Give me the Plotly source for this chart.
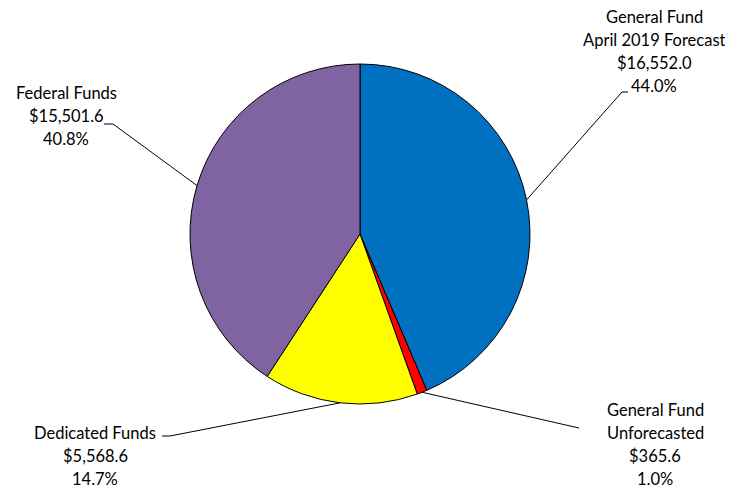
import numpy as np
import plotly.graph_objects as go

categories = ["General Fund April 2019 Forecast", "General Fund Unforecasted", "Dedicated Funds", "Federal Funds"]
label_lines = [["General Fund", "April 2019 Forecast"], ["General Fund", "Unforecasted"], ["Dedicated Funds"], ["Federal Funds"]]
values = [16552.0, 365.6, 5568.6, 15501.6]
percents = [44.0, 1.0, 14.7, 40.8]
colors = ["#0070C0", "#FF0000", "#FFFF00", "#8064A2"]

OFF = 8  # page body margin
W, H = 733 - OFF, 489 - OFF
CX, CY, R = 360 - OFF, 234 - OFF, 170

# label anchor layout (reference pixel coords): center x, first line y, leader end (x,y), leader elbow x
label_layout = [
    dict(cx=654, y0=17, end=(628, 92), elbow=622),
    dict(cx=655, y0=410, end=(579, 428), elbow=579),
    dict(cx=95, y0=433, end=(162, 436), elbow=170),
    dict(cx=66, y0=93, end=(104, 124), elbow=113),
]
LINE_H = 23
FONT = dict(family="Lato, Carlito, sans-serif", size=16.5, color="#000000")

fig = go.Figure()
fig.add_trace(go.Pie(
    labels=categories, values=values, sort=False, direction="clockwise", rotation=0,
    marker=dict(colors=colors, line=dict(color="#000000", width=1)),
    textinfo="none", hoverinfo="label+value+percent", showlegend=False,
    domain=dict(x=[(CX - R) / W, (CX + R) / W], y=[1 - (CY + R) / H, 1 - (CY - R) / H]),
))

total = sum(values)
cum = np.cumsum([0] + values[:-1])
annotations = []
for i, v in enumerate(values):
    mid = (cum[i] + v / 2) / total * 2 * np.pi
    sx = CX + R * np.sin(mid)
    sy = CY - R * np.cos(mid)
    lay = label_layout[i]
    ex, ey = lay["end"][0] - OFF, lay["end"][1] - OFF
    fig.add_trace(go.Scatter(x=[sx, lay["elbow"] - OFF, ex], y=[sy, ey, ey], mode="lines",
                             line=dict(color="#000000", width=1), hoverinfo="skip", showlegend=False))
    lines = label_lines[i] + ["${:,.1f}".format(v), "{:.1f}%".format(percents[i])]
    for j, t in enumerate(lines):
        annotations.append(dict(x=lay["cx"] - OFF, y=lay["y0"] - OFF + j * LINE_H, text=t, showarrow=False,
                                xref="x", yref="y", xanchor="center", yanchor="middle", font=FONT))

fig.update_layout(
    width=W, height=H, margin=dict(l=0, r=0, t=0, b=0),
    paper_bgcolor="#FFFFFF", plot_bgcolor="rgba(0,0,0,0)",
    xaxis=dict(range=[0, W], visible=False, fixedrange=True),
    yaxis=dict(range=[H, 0], visible=False, fixedrange=True),
    annotations=annotations,
)
fig.write_html("out.html")
